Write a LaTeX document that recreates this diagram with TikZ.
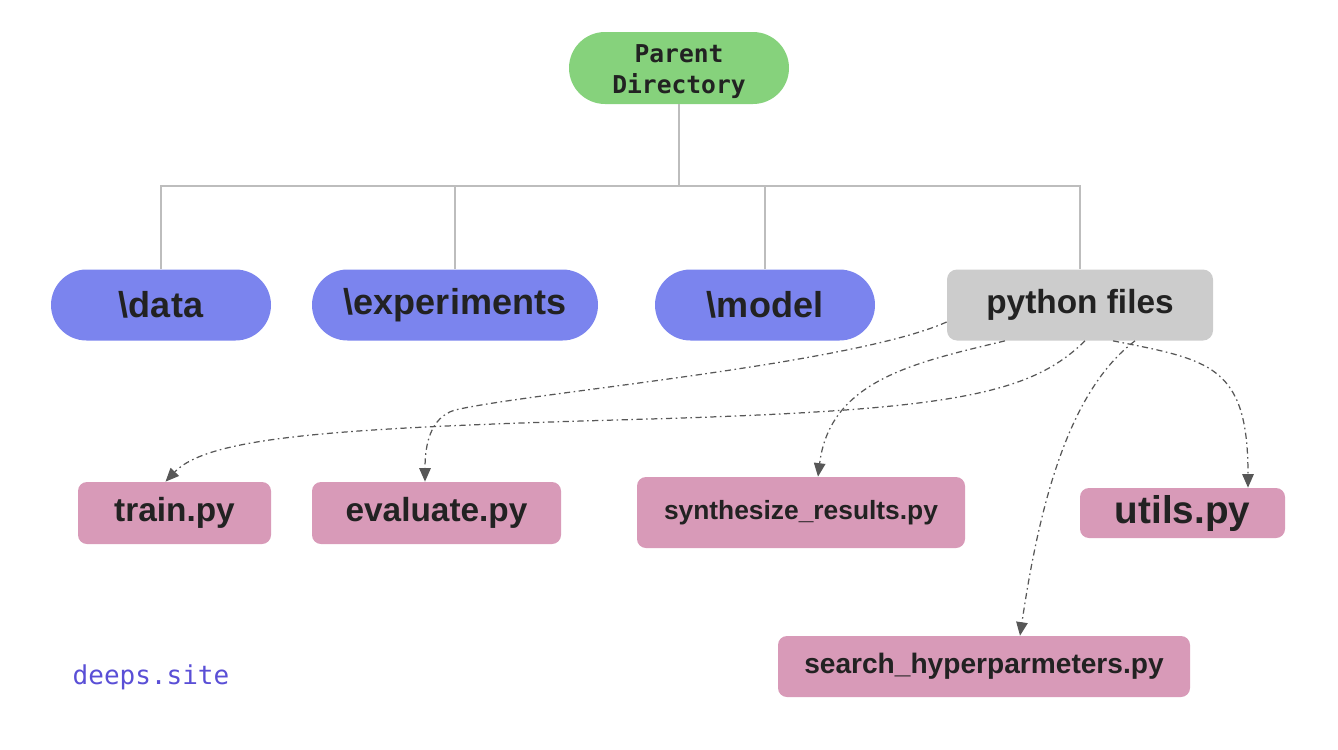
\documentclass[tikz,border=0pt]{standalone}
\usepackage{fontspec}
\setmainfont{Liberation Sans}
\setmonofont{DejaVu Sans Mono}
\usepackage{tikz}
\usetikzlibrary{arrows.meta}
\usepackage{xcolor}
\definecolor{verde}{HTML}{86D27C}
\definecolor{azul}{HTML}{7B84EE}
\definecolor{gris}{HTML}{CCCCCC}
\definecolor{rosa}{HTML}{D89AB8}
\definecolor{linea}{HTML}{BDBDBD}
\definecolor{tinta}{HTML}{222222}
\definecolor{violeta}{HTML}{5A4FD6}

\begin{document}
\begin{tikzpicture}[
      raiz/.style={fill=verde, rounded corners=0.72cm, align=center, inner sep=0pt,
                   text=tinta, font=\ttfamily\bfseries\fontsize{14}{17.6}\selectfont,
                   minimum width=4.4cm, minimum height=1.44cm},
      carpeta/.style={fill=azul, rounded corners=0.71cm, inner sep=0pt, text=tinta,
                      font=\bfseries\fontsize{20.5}{24}\selectfont,
                      minimum height=1.42cm},
      archivo/.style={fill=rosa, rounded corners=0.18cm, inner sep=0pt, text=tinta,
                      font=\bfseries\fontsize{19}{23}\selectfont},
      arbol/.style={draw=linea, line width=0.85pt},
      flecha/.style={-{Triangle[length=0.27cm, width=0.23cm]}, draw=black!66,
                     line width=0.7pt, dash pattern=on 3.5pt off 2pt on 0.9pt off 2pt}
    ]
    \useasboundingbox (0,0) rectangle (26.76,-14.98);

    \node[raiz] (r) at (13.58,-1.36) {\rule{0pt}{14.5pt}Parent\\Directory};

    \node[carpeta, minimum width=4.4cm]  (d) at (3.22,-6.10)  {\textbackslash data};
    \node[carpeta, minimum width=5.72cm] (x) at (9.10,-6.10)  {\textbackslash experiments};
    \node[carpeta, minimum width=4.4cm]  (m) at (15.30,-6.10) {\textbackslash model};
    \node[fill=gris, rounded corners=0.2cm, inner sep=0pt, text=tinta,
          font=\bfseries\fontsize{19}{23}\selectfont,
          minimum width=5.32cm, minimum height=1.42cm] (f) at (21.60,-6.10) {python files};

    \node[archivo, minimum width=3.86cm, minimum height=1.24cm] (t) at (3.49,-10.26) {train.py};
    \node[archivo, minimum width=4.98cm, minimum height=1.24cm] (e) at (8.73,-10.26) {evaluate.py};
    \node[archivo, minimum width=6.56cm, minimum height=1.42cm,
          font=\bfseries\fontsize{15}{18}\selectfont] (s) at (16.02,-10.25) {synthesize\_results.py};
    \node[archivo, minimum width=4.10cm, minimum height=1.00cm,
          font=\bfseries\fontsize{22}{26}\selectfont] (u) at (23.65,-10.26) {utils.py};
    \node[archivo, minimum width=8.24cm, minimum height=1.22cm,
          font=\bfseries\fontsize{16}{19}\selectfont] (h) at (19.68,-13.33) {search\_hyperparmeters.py};

    \node[text=violeta, font=\ttfamily\fontsize{14.8}{18}\selectfont] (w) at (3.02,-13.54) {deeps.site};

    % arbol de carpetas
    \coordinate (b) at (13.58,-3.72);
    \draw[arbol] (r.south) -- (b);
    \foreach \n in {d,x,m,f}
      \draw[arbol] (b) -| (\n.north);

    % archivos de python
    \draw[flecha] ([yshift=-0.34cm]f.west) .. controls (17,-7.3) and (10.6,-7.85) .. (9.1,-8.2)
                  .. controls (8.6,-8.35) and (8.5,-8.9) .. ([xshift=-0.23cm]e.north);
    \draw[flecha] ([xshift=-1.5cm]f.south) .. controls (18.3,-7.25) and (16.6,-7.6) .. ([xshift=0.34cm]s.north);
    \draw[flecha] ([xshift=0.1cm]f.south) .. controls (20.6,-7.9) and (19,-8.2) .. (13,-8.38)
                  .. controls (7,-8.55) and (4.2,-8.7) .. ([xshift=-0.18cm]t.north);
    \draw[flecha] ([xshift=1.1cm]f.south) .. controls (21.4,-7.8) and (20.8,-10) .. ([xshift=0.72cm]h.north);
    \draw[flecha] ([xshift=0.66cm]f.south) .. controls (24.2,-7.2) and (24.96,-7.3) .. ([xshift=1.31cm]u.north);
  \end{tikzpicture}
\end{document}
